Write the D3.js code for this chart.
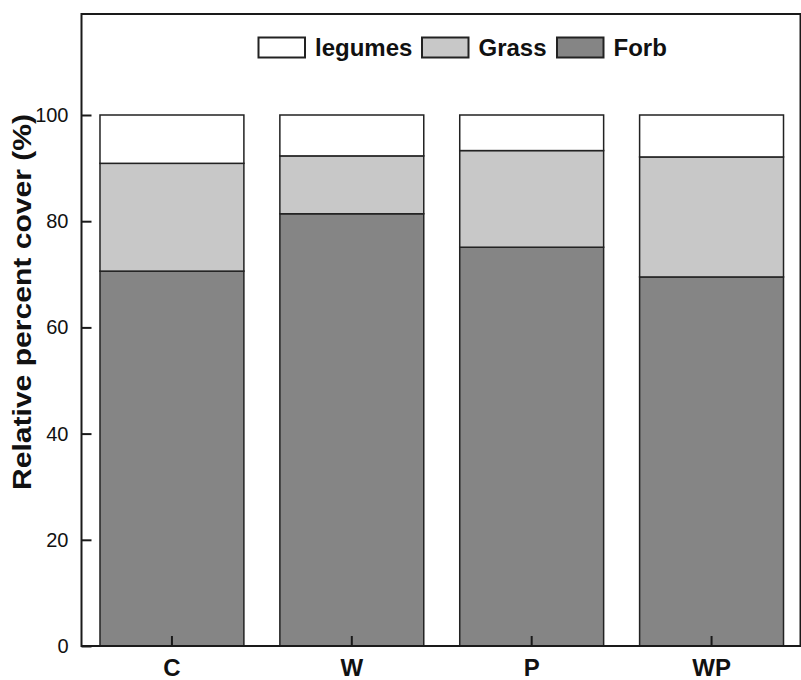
<!DOCTYPE html>
<html lang="en">
<head>
  <meta charset="UTF-8">
  <title>Relative percent cover</title>
  <script src="https://d3js.org/d3.v7.min.js"></script>
  <style>
    body {
      margin: 0;
      background: white;
      font-family: "Liberation Sans", Arial, Helvetica, sans-serif;
    }
    svg { display: block; }
  </style>
</head>
<body>
  <div id="chart"></div>

  <script>
    // Data
    const treatments = ["C", "W", "P", "WP"];
    const forb    = [70.6, 81.4, 75.1, 69.5];
    const grass   = [20.3, 10.9, 18.2, 22.6];
    const legumes = [9.1, 7.7, 6.7, 7.9];
    const seriesNames = ["Forb", "Grass", "legumes"];
    const legendOrder = ["legumes", "Grass", "Forb"];
    const yTicks = [0, 20, 40, 60, 80, 100];

    const width = 801;
    const height = 680;
    const frameLeft = 81.5, frameTop = 14, frameBottom = 646, frameRight = 800.5;

    const colors = {
      Forb: "#858585",
      Grass: "#c8c8c8",
      legumes: "#ffffff"
    };

    const rows = treatments.map((t, i) => ({
      treatment: t,
      Forb: forb[i],
      Grass: grass[i],
      legumes: legumes[i]
    }));

    const stack = d3.stack().keys(seriesNames);
    const layers = stack(rows);

    const x = d3.scaleBand()
      .domain(treatments)
      .range([82, 801.5])
      .paddingInner(0.2)
      .paddingOuter(0.1);

    const y = d3.scaleLinear()
      .domain([0, 100])
      .range([frameBottom, 115]);

    const svg = d3.select("#chart")
      .append("svg")
      .attr("width", width)
      .attr("height", height);

    // stacked bars
    svg.append("g")
      .selectAll("g")
      .data(layers)
      .join("g")
      .attr("fill", d => colors[d.key])
      .selectAll("rect")
      .data(d => d)
      .join("rect")
      .attr("x", d => x(d.data.treatment))
      .attr("width", x.bandwidth())
      .attr("y", d => y(d[1]))
      .attr("height", d => y(d[0]) - y(d[1]))
      .attr("stroke", "#222")
      .attr("stroke-width", 1.5);

    // frame
    svg.append("rect")
      .attr("x", frameLeft)
      .attr("y", frameTop)
      .attr("width", frameRight - frameLeft)
      .attr("height", frameBottom - frameTop)
      .attr("fill", "none")
      .attr("stroke", "#1a1a1a")
      .attr("stroke-width", 2);

    // y axis (inward ticks)
    const yAxis = svg.append("g")
      .attr("transform", `translate(${frameLeft},0)`)
      .call(d3.axisRight(y).tickValues(yTicks).tickSize(10).tickFormat(d3.format("d")));
    yAxis.select(".domain").remove();
    yAxis.selectAll(".tick line").attr("stroke", "#1a1a1a").attr("stroke-width", 2);
    yAxis.selectAll(".tick text")
      .attr("x", -13)
      .attr("text-anchor", "end")
      .attr("fill", "#111")
      .style("font-family", "'Liberation Sans', Arial, sans-serif")
      .style("font-size", "20px");

    // x axis (inward ticks)
    const xAxis = svg.append("g")
      .attr("transform", `translate(0,${frameBottom})`)
      .call(d3.axisTop(x).tickSize(10));
    xAxis.select(".domain").remove();
    xAxis.selectAll(".tick line").attr("stroke", "#1a1a1a").attr("stroke-width", 2);
    xAxis.selectAll(".tick text")
      .attr("y", 30)
      .attr("dy", 0)
      .attr("fill", "#111")
      .style("font-family", "'Liberation Sans', Arial, sans-serif")
      .style("font-size", "24px")
      .style("font-weight", "bold");

    // y label
    svg.append("text")
      .attr("transform", `translate(31,302) rotate(-90)`)
      .attr("text-anchor", "middle")
      .attr("textLength", 376)
      .attr("lengthAdjust", "spacingAndGlyphs")
      .style("font-size", "25px")
      .style("font-weight", "bold")
      .attr("fill", "#111")
      .text("Relative percent cover (%)");

    // legend
    const legendX = [258.5, 422, 557];
    const legend = svg.append("g");
    legendOrder.forEach((name, i) => {
      const g = legend.append("g").attr("transform", `translate(${legendX[i]},37.5)`);
      g.append("rect")
        .attr("width", 46.5)
        .attr("height", 20)
        .attr("fill", colors[name])
        .attr("stroke", "#222")
        .attr("stroke-width", 2);
      g.append("text")
        .attr("x", 56.5)
        .attr("y", 18)
        .attr("fill", "#111")
        .style("font-size", "24px")
        .style("font-weight", "bold")
        .text(name);
    });
  </script>
</body>
</html>
